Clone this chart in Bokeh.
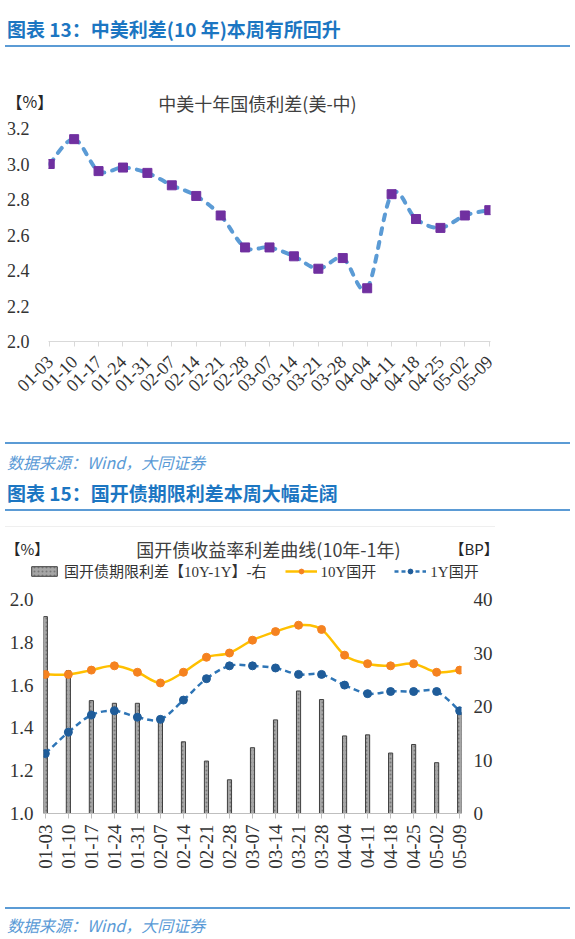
import math
import numpy as np
from bokeh.plotting import figure
from bokeh.models import (Range1d, LinearAxis, Label, Legend, LegendItem, Div,
                          FixedTicker, NumeralTickFormatter)
from bokeh.layouts import column
from bokeh.embed import file_html
from bokeh.resources import INLINE

# ---------------- data ----------------
dates = ["01-03", "01-10", "01-17", "01-24", "01-31", "02-07", "02-14", "02-21",
         "02-28", "03-07", "03-14", "03-21", "03-28", "04-04", "04-11", "04-18",
         "04-25", "05-02", "05-09"]

# chart 13: US-China 10Y spread (%)
us_cn_spread = [3.00, 3.14, 2.96, 2.98, 2.95, 2.88, 2.82, 2.71, 2.53, 2.53,
                2.48, 2.41, 2.47, 2.30, 2.83, 2.69, 2.64, 2.71, 2.74]
y1_ticks = [2.0, 2.2, 2.4, 2.6, 2.8, 3.0, 3.2]

# chart 15: CDB yields (%) and term spread (BP)
cdb_10y = [1.65, 1.65, 1.67, 1.69, 1.66, 1.61, 1.66, 1.73, 1.75, 1.81,
           1.85, 1.88, 1.86, 1.74, 1.70, 1.69, 1.70, 1.66, 1.67]
cdb_1y = [1.28, 1.38, 1.46, 1.48, 1.45, 1.44, 1.53, 1.63, 1.69, 1.69,
          1.68, 1.65, 1.65, 1.60, 1.56, 1.57, 1.57, 1.57, 1.48]
term_spread_bp = [36.8, 26.7, 21.1, 20.6, 20.6, 17.4, 13.4, 9.8, 6.3, 12.3,
                  17.5, 22.9, 21.3, 14.5, 14.7, 11.3, 12.9, 9.5, 18.9]
y2_left_ticks = [1.0, 1.2, 1.4, 1.6, 1.8, 2.0]
y2_right_ticks = [0, 10, 20, 30, 40]

title1 = "中美十年国债利差(美-中)"
title2 = "国开债收益率利差曲线(10年-1年)"
header1 = "图表 13：中美利差(10 年)本周有所回升"
header2 = "图表 15：国开债期限利差本周大幅走阔"
source_txt = "数据来源：Wind，大同证券"
legend_labels = ["国开债期限利差【10Y-1Y】-右", "10Y国开", "1Y国开"]

# --------------- styles ---------------
W = 575
NUM_FONT = "Liberation Serif"
CJK_FONT = "Noto Sans CJK SC"
MIX_FONT = "'Liberation Serif', 'Noto Sans CJK SC'"
TXT = "#333333"
C_SPREAD_LINE, C_SPREAD_MARK = "#5B9BD5", "#7030A0"
C_10Y_LINE, C_10Y_MARK = "#FFC000", "#F58220"
C_1Y_LINE, C_1Y_MARK = "#2E75B6", "#1F5C99"
BAR_STYLE = dict(fill_color="#A6A6A6", line_color="#3F3F3F", line_width=1,
                 hatch_pattern="dot", hatch_color="#5A5A5A", hatch_scale=4,
                 hatch_weight=1, hatch_alpha=0.6)
NAN = [float("nan")]


def smooth(xs, ys, t=1 / 6):
    """Catmull-Rom style bezier control points for a smoothed line."""
    x = np.asarray(xs, float)
    y = np.asarray(ys, float)
    n = len(x)
    px = np.concatenate([[x[0]], x, [x[-1]]])
    py = np.concatenate([[y[0]], y, [y[-1]]])
    return dict(
        x0=x[:-1], y0=y[:-1], x1=x[1:], y1=y[1:],
        cx0=x[:-1] + (px[2:n + 1] - px[0:n - 1]) * t,
        cy0=y[:-1] + (py[2:n + 1] - py[0:n - 1]) * t,
        cx1=x[1:] - (px[3:n + 2] - px[1:n]) * t,
        cy1=y[1:] - (py[3:n + 2] - py[1:n]) * t,
    )


def base_fig(height, left, right, top, bottom, xr, yr):
    p = figure(width=W, height=height, x_range=xr, y_range=yr, title=None,
               output_backend="svg", toolbar_location=None, tools="")
    p.frame_align = False
    p.min_border_left = left
    p.min_border_right = right
    p.min_border_top = top
    p.min_border_bottom = bottom
    p.outline_line_color = None
    p.xgrid.visible = False
    p.ygrid.visible = False
    p.background_fill_color = "white"
    p.border_fill_color = "white"
    return p


def strip(height, labels):
    s = figure(width=W, height=height, x_range=Range1d(0, 1), y_range=Range1d(0, 1),
               title=None, x_axis_type=None, y_axis_type=None,
               output_backend="svg", toolbar_location=None, tools="")
    s.frame_align = False
    s.min_border = 0
    s.min_border_left = 0
    s.min_border_right = 0
    s.min_border_top = 0
    s.min_border_bottom = 0
    s.outline_line_color = None
    s.xgrid.visible = False
    s.ygrid.visible = False
    for lb in labels:
        s.add_layout(lb)
    return s


def text_label(x, y, text, size, align="left", color="#262626"):
    return Label(x=x, y=y, x_units="screen", y_units="screen", text=text,
                 text_align=align, text_baseline="middle", text_font=CJK_FONT,
                 text_font_size=size, text_color=color)


idx = list(range(len(dates)))
overrides = {i: d for i, d in enumerate(dates)}

# --------------- chart 1 ---------------
strip1 = strip(59, [text_label(257, 13, title1, "18px", "center", "#404040"),
                    text_label(6, 15, "【%】", "16px")])

p1 = base_fig(315, 48, 85, 13, 89, Range1d(-0.05, 18.05), Range1d(2.0, 3.2))
s1 = smooth(idx, us_cn_spread)
p1.bezier(source=s1, x0="x0", y0="y0", x1="x1", y1="y1", cx0="cx0", cy0="cy0",
          cx1="cx1", cy1="cy1", line_color=C_SPREAD_LINE, line_width=4,
          line_dash="6 8", line_cap="round")
p1.scatter(idx, us_cn_spread, marker="square", size=9, fill_color=C_SPREAD_MARK,
           line_color=C_SPREAD_MARK)

xa = p1.xaxis[0]
xa.ticker = FixedTicker(ticks=idx)
xa.major_label_overrides = overrides
xa.major_label_orientation = math.pi / 4
xa.major_label_text_font = NUM_FONT
xa.major_label_text_font_size = "18px"
xa.major_label_text_color = TXT
xa.axis_line_color = "#D9D9D9"
xa.major_tick_line_color = "#D9D9D9"
xa.major_tick_in = 0
xa.major_tick_out = 5
xa.minor_tick_line_color = None
xa.major_label_standoff = 12

ya = p1.yaxis[0]
ya.ticker = FixedTicker(ticks=y1_ticks)
ya.formatter = NumeralTickFormatter(format="0.0")
ya.axis_line_color = None
ya.major_tick_line_color = None
ya.minor_tick_line_color = None
ya.major_tick_in = 0
ya.major_tick_out = 0
ya.major_label_standoff = 19
ya.major_label_text_font = NUM_FONT
ya.major_label_text_font_size = "18px"
ya.major_label_text_color = TXT

# --------------- chart 2 ---------------
strip2 = strip(58, [text_label(268, 40, title2, "18px", "center", "#404040"),
                    text_label(5, 40, "【%】", "15px"),
                    text_label(449, 40, "【BP】", "15px")])
# legend-only renderers (a single NaN row: they draw nothing, only the key)
lg_bar = strip2.vbar(x=NAN, top=NAN, width=0.1, **BAR_STYLE)
lg10 = strip2.line(x=NAN, y=NAN, line_color=C_10Y_LINE, line_width=2.5)
lg10m = strip2.scatter(x=NAN, y=NAN, marker="circle", size=8, fill_color=C_10Y_MARK,
                       line_color=C_10Y_MARK)
lg1 = strip2.line(x=NAN, y=NAN, line_color=C_1Y_LINE, line_width=2.5, line_dash="4 3")
lg1m = strip2.scatter(x=NAN, y=NAN, marker="circle", size=8, fill_color=C_1Y_MARK,
                      line_color=C_1Y_MARK)
legend = Legend(items=[LegendItem(label=legend_labels[0], renderers=[lg_bar]),
                       LegendItem(label=legend_labels[1], renderers=[lg10, lg10m]),
                       LegendItem(label=legend_labels[2], renderers=[lg1, lg1m])],
                orientation="horizontal", location=(28, 7),
                glyph_width=32, glyph_height=12, label_standoff=4, spacing=18,
                padding=0, margin=0, border_line_color=None,
                background_fill_alpha=0,
                label_text_font=MIX_FONT, label_text_font_size="15px",
                label_text_color=TXT)
strip2.add_layout(legend)

p2 = base_fig(310, 43, 114, 11, 85, Range1d(-0.08, 18.08), Range1d(1.0, 2.0))
p2.extra_y_ranges = {"bp": Range1d(0, 40)}

p2.vbar(x=idx, top=term_spread_bp, width=0.18, bottom=0, y_range_name="bp",
        **BAR_STYLE)
s10 = smooth(idx, cdb_10y)
p2.bezier(source=s10, x0="x0", y0="y0", x1="x1", y1="y1", cx0="cx0", cy0="cy0",
          cx1="cx1", cy1="cy1", line_color=C_10Y_LINE, line_width=2.5)
p2.scatter(idx, cdb_10y, marker="circle", size=8, fill_color=C_10Y_MARK,
           line_color=C_10Y_MARK)
s1y = smooth(idx, cdb_1y)
p2.bezier(source=s1y, x0="x0", y0="y0", x1="x1", y1="y1", cx0="cx0", cy0="cy0",
          cx1="cx1", cy1="cy1", line_color=C_1Y_LINE, line_width=2.5,
          line_dash="6 4")
p2.scatter(idx, cdb_1y, marker="circle", size=8, fill_color=C_1Y_MARK,
           line_color=C_1Y_MARK)

xa2 = p2.xaxis[0]
xa2.ticker = FixedTicker(ticks=idx)
xa2.major_label_overrides = overrides
xa2.major_label_orientation = math.pi / 2
xa2.major_label_text_font = NUM_FONT
xa2.major_label_text_font_size = "19px"
xa2.major_label_text_color = TXT
xa2.axis_line_color = "#BFBFBF"
xa2.major_tick_line_color = "#BFBFBF"
xa2.major_tick_in = 0
xa2.major_tick_out = 5
xa2.minor_tick_line_color = None
xa2.major_label_standoff = 6

ya2 = p2.yaxis[0]
ya2.ticker = FixedTicker(ticks=y2_left_ticks)
ya2.formatter = NumeralTickFormatter(format="0.0")

yr2 = LinearAxis(y_range_name="bp", ticker=FixedTicker(ticks=y2_right_ticks))
p2.add_layout(yr2, "right")
for ax, st in ((ya2, 10), (yr2, 12)):
    ax.axis_line_color = None
    ax.major_tick_line_color = None
    ax.minor_tick_line_color = None
    ax.major_tick_in = 0
    ax.major_tick_out = 0
    ax.major_label_standoff = st
    ax.major_label_text_font = NUM_FONT
    ax.major_label_text_font_size = "19px"
    ax.major_label_text_color = TXT

# --------------- HTML headers / footers ---------------
HDR = ("font-family:'Noto Sans CJK SC',sans-serif;font-weight:bold;font-size:19px;"
       "line-height:24px;color:#1C76C2;white-space:nowrap;")
SRC = ("font-family:'Noto Sans CJK SC',sans-serif;font-style:italic;font-size:16px;"
       "line-height:20px;color:#5A9AD6;white-space:nowrap;")
RULE = "border-top:2px solid #5B9BD5;height:0;width:565px;"


def box(h, parts):
    inner = "".join(parts)
    return f'<div style="position:relative;width:{W}px;height:{h}px;overflow:visible;">{inner}</div>'


def at(top, left, style, text=""):
    return f'<div style="position:absolute;left:{left}px;top:{top}px;{style}">{text}</div>'


div1 = Div(text=box(56, [at(17, 7, HDR, header1), at(45, 5, RULE)]),
           width=W, height=56, margin=0)
div2 = Div(text=box(100, [at(12, 5, RULE), at(22, 7, SRC, source_txt),
                         at(51, 7, HDR, header2), at(79, 5, RULE),
                         at(96, 5, "border-top:1px solid #EFEFEF;height:0;width:490px;")]),
           width=W, height=100, margin=0)
div3 = Div(text=box(41, [at(9, 5, RULE), at(17, 7, SRC, source_txt)]),
           width=W, height=41, margin=0)

layout = column(div1, strip1, p1, div2, strip2, p2, div3, spacing=0)
open("out.html", "w").write(file_html(layout, INLINE))
